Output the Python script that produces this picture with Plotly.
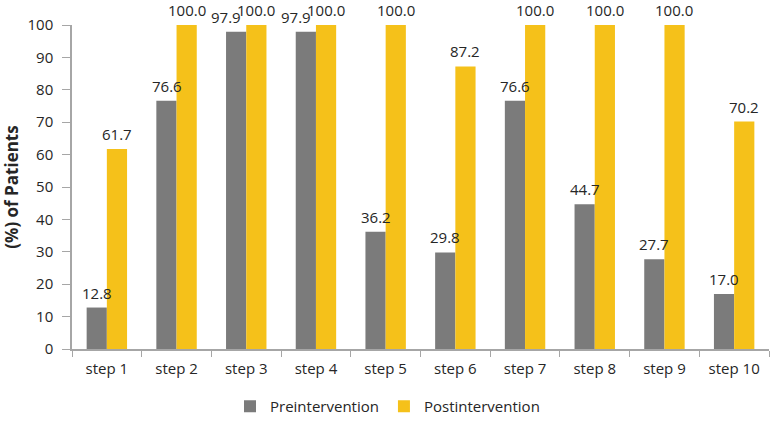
import plotly.graph_objects as go

categories = ["step 1", "step 2", "step 3", "step 4", "step 5", "step 6", "step 7", "step 8", "step 9", "step 10"]
pre = [12.8, 76.6, 97.9, 97.9, 36.2, 29.8, 76.6, 44.7, 27.7, 17.0]
post = [61.7, 100.0, 100.0, 100.0, 100.0, 87.2, 100.0, 100.0, 100.0, 70.2]

font_family = "Open Sans, Lato, sans-serif"
text_color = "#262626"

fig = go.Figure()
fig.add_trace(go.Bar(
    x=categories, y=pre, name="Preintervention",
    marker=dict(color="#7b7b7b", line=dict(width=0)),
    cliponaxis=False,
))
fig.add_trace(go.Bar(
    x=categories, y=post, name="Postintervention",
    marker=dict(color="#f5c11a", line=dict(width=0)),
    cliponaxis=False,
))

# value labels above each bar (pre labels that nearly touch the post label are nudged left)
for c, a, b in zip(categories, pre, post):
    crowded = (b - a) < 5
    fig.add_annotation(x=c, y=a, text=f"{a:.1f}", showarrow=False,
                       xshift=-10 - (10 if crowded else 0), yshift=3, yanchor="bottom",
                       font=dict(size=15, color=text_color, family=font_family))
    fig.add_annotation(x=c, y=b, text=f"{b:.1f}", showarrow=False,
                       xshift=10, yshift=3, yanchor="bottom",
                       font=dict(size=15, color=text_color, family=font_family))

fig.update_layout(
    width=775, height=423,
    margin=dict(l=72, r=6, t=25, b=74, autoexpand=False),
    paper_bgcolor="white", plot_bgcolor="white",
    barmode="group", bargap=0.42, bargroupgap=0,
    font=dict(family=font_family, size=14, color=text_color),
    showlegend=True,
    legend=dict(orientation="h", x=0.5, xanchor="center", xref="container",
                y=0.0, yanchor="bottom", yref="container",
                font=dict(size=15, color=text_color), itemwidth=30,
                traceorder="normal"),
    xaxis=dict(
        showline=True, linecolor="#a6a6a6", linewidth=1.5,
        ticks="outside", tickson="boundaries", ticklen=6, tickcolor="#a6a6a6",
        tickfont=dict(size=15, color=text_color), showgrid=False,
        ticklabelstandoff=5, automargin=False,
    ),
    yaxis=dict(
        range=[0, 100], dtick=10, showline=True, linecolor="#a6a6a6", linewidth=1.5,
        ticks="outside", ticklen=8, tickcolor="#a6a6a6",
        tickfont=dict(size=15, color=text_color), showgrid=False, zeroline=False,
        ticklabelstandoff=6, automargin=False,
        title=dict(text="<b>(%) of Patients</b>", font=dict(size=17, color=text_color), standoff=6),
    ),
)

fig.write_html("out.html", config={"displayModeBar": False},
               post_script="document.body.style.margin='0';")
